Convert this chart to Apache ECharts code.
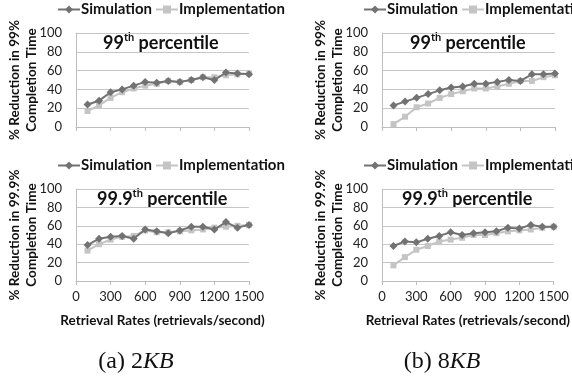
<!DOCTYPE html>
<html>
<head>
<meta charset="utf-8">
<script src="https://cdn.jsdelivr.net/npm/echarts@6/dist/echarts.min.js"></script>
<style>
  html, body { margin: 0; padding: 0; background: #fff; }
  #chart { width: 572px; height: 380px; }
</style>
</head>
<body>
<div id="chart"></div>
<script>
// retrieval rates (retrievals/second)
const rates = [100, 200, 300, 400, 500, 600, 700, 800, 900, 1000, 1100, 1200, 1300, 1400, 1500];

// (a) 2KB
const sim2kb99 = [24, 28, 37, 40, 44, 48, 47, 49, 48, 50, 53, 50, 58, 57, 56];
const impl2kb99 = [17, 23, 31, 37, 41, 44, 46, 49, 48, 50, 53, 53, 55, 56, 57];
const sim2kb999 = [39, 46, 48, 49, 46, 56, 54, 52, 55, 59, 59, 56, 64, 58, 61];
const impl2kb999 = [33, 40, 45, 48, 49, 55, 53, 53, 54, 55, 56, 58, 59, 60, 61];

// (b) 8KB
const sim8kb99 = [23, 27, 31, 35, 39, 42, 43, 46, 46, 48, 50, 49, 56, 56, 57];
const impl8kb99 = [3, 11, 21, 25, 31, 35, 38, 41, 41, 43, 46, 49, 49, 53, 55];
const sim8kb999 = [38, 43, 42, 46, 49, 53, 50, 52, 53, 54, 58, 57, 61, 59, 59];
const impl8kb999 = [17, 26, 34, 38, 43, 45, 47, 50, 50, 52, 54, 55, 56, 58, 59];

const captions = [["(a) ", "2", 136], ["(b) ", "8", 442]];

const FONT = "Lato";
const SIM_COLOR = "#727272";
const IMPL_COLOR = "#c4c4c4";

const panels = [
  { sim: sim2kb99, impl: impl2kb99, pct: "99", left: 76, top: 33, height: 94, bottomAxis: false, titleX: 103 },
  { sim: sim8kb99, impl: impl8kb99, pct: "99", left: 382, top: 33, height: 94, bottomAxis: false, titleX: 410 },
  { sim: sim2kb999, impl: impl2kb999, pct: "99.9", left: 76, top: 189, height: 92, bottomAxis: true, titleX: 97 },
  { sim: sim8kb999, impl: impl8kb999, pct: "99.9", left: 382, top: 189, height: 92, bottomAxis: true, titleX: 402 },
];

const pairs = (vals) => rates.map((r, i) => [r, vals[i]]);

const chart = echarts.init(document.getElementById("chart"), null, { renderer: "canvas" });

const grid = [], xAxis = [], yAxis = [], series = [], legend = [], graphic = [];

panels.forEach((p, i) => {
  grid.push({ left: p.left, top: p.top, width: 173, height: p.height });
  xAxis.push({
    type: "value",
    gridIndex: i,
    min: 0,
    max: 1500,
    interval: 300,
    axisLine: { show: true, lineStyle: { color: "#bdbdbd", width: 1 } },
    axisTick: { show: true, length: 4, lineStyle: { color: "#bdbdbd" } },
    splitLine: { show: false },
    axisLabel: {
      show: p.bottomAxis,
      margin: 9,
      color: "#222",
      fontFamily: FONT,
      fontSize: 13,
      formatter: (v) => String(v),
    },
    name: p.bottomAxis ? "Retrieval Rates (retrievals/second)" : "",
    nameLocation: "middle",
    nameGap: 33,
    nameMoveOverlap: false,
    nameTextStyle: { color: "#111", fontFamily: FONT, fontWeight: "bold", fontSize: 13.5 },
  });
  yAxis.push({
    type: "value",
    gridIndex: i,
    min: 0,
    max: 100,
    interval: 20,
    axisLine: { show: true, lineStyle: { color: "#bdbdbd", width: 1 } },
    axisTick: { show: false },
    splitLine: { show: true, lineStyle: { color: "#c6c6c6", width: 1 } },
    axisLabel: { margin: 14, color: "#222", fontFamily: FONT, fontSize: 13 },
    name: "% Reduction in " + p.pct + "%\nCompletion Time",
    nameLocation: "middle",
    nameRotate: 90,
    nameGap: 36,
    nameMoveOverlap: false,
    nameTextStyle: { color: "#111", fontFamily: FONT, fontWeight: "bold", fontSize: 13.5, lineHeight: 17 },
  });
  series.push({
    name: "Simulation",
    type: "line",
    xAxisIndex: i,
    yAxisIndex: i,
    data: pairs(p.sim),
    symbol: "diamond",
    symbolSize: 8,
    itemStyle: { color: SIM_COLOR },
    lineStyle: { color: SIM_COLOR, width: 2 },
    z: 3,
  });
  series.push({
    name: "Implementation",
    type: "line",
    xAxisIndex: i,
    yAxisIndex: i,
    data: pairs(p.impl),
    symbol: "rect",
    symbolSize: 6,
    itemStyle: { color: IMPL_COLOR },
    lineStyle: { color: IMPL_COLOR, width: 2 },
    z: 2,
  });
  legend.push({
    orient: "horizontal",
    left: p.left - 19,
    top: p.top - 31,
    width: 400,
    padding: 0,
    itemWidth: 22,
    itemHeight: 10,
    itemGap: 3,
    selectedMode: false,
    data: ["Simulation", "Implementation"],
    textStyle: { color: "#111", fontFamily: FONT, fontWeight: "bold", fontSize: 15, padding: [0, 0, 0, -4] },
  });
  graphic.push({
    type: "text",
    left: p.titleX,
    top: p.top - 1,
    style: {
      text: "{n|" + p.pct + "}{s|th}{n| percentile}",
      rich: {
        n: { fontFamily: FONT, fontWeight: "bold", fontSize: 18, fill: "#111", lineHeight: 22 },
        s: { fontFamily: FONT, fontWeight: "bold", fontSize: 11, fill: "#111", lineHeight: 22, verticalAlign: "top", padding: [0, 0, 8, 0] },
      },
    },
  });
});

// sub-figure captions
captions.forEach(([label, size, cx]) => {
  graphic.push({
    type: "text",
    x: cx,
    y: 362,
    style: {
      text: "{r|" + label + size + "}{i|KB}",
      textAlign: "center",
      textVerticalAlign: "middle",
      rich: {
        r: { fontFamily: "Liberation Serif", fontSize: 24, fill: "#111" },
        i: { fontFamily: "Liberation Serif", fontStyle: "italic", fontSize: 24, fill: "#111" },
      },
    },
  });
});

chart.setOption({
  animation: false,
  backgroundColor: "#fff",
  grid: grid,
  xAxis: xAxis,
  yAxis: yAxis,
  legend: legend,
  series: series,
  graphic: graphic,
});
</script>
</body>
</html>
